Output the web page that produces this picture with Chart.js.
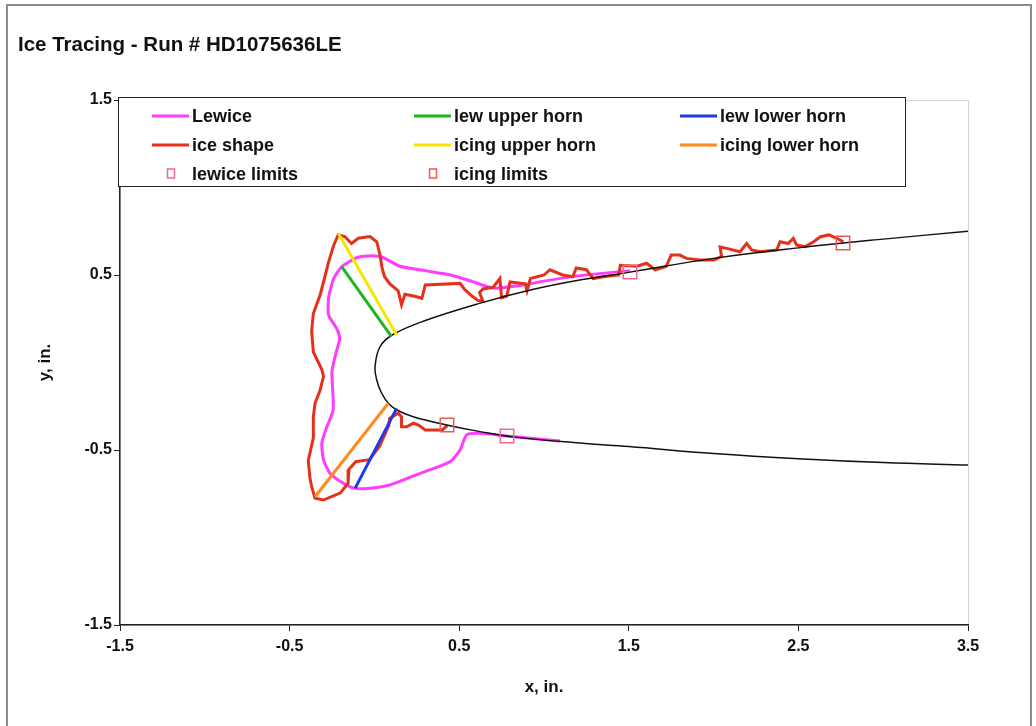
<!DOCTYPE html>
<html>
<head>
<meta charset="utf-8">
<script src="https://cdn.jsdelivr.net/npm/chart.js@4.4.1/dist/chart.umd.min.js"></script>
<style>
html, body { margin: 0; padding: 0; background: #fff; }
#wrap { position: relative; width: 1036px; height: 726px; overflow: hidden; }
#frame { position: absolute; left: 6px; top: 4px; width: 1026px; height: 760px; border: 2px solid #8c8c8c; box-sizing: border-box; pointer-events: none; }
canvas { position: absolute; left: 0; top: 0; }
</style>
</head>
<body>
<div id="wrap">
  <canvas id="chart" width="1036" height="726"></canvas>
  <div id="frame"></div>
</div>
<script>
// tick positions
const xTicks = [-1.5, -0.5, 0.5, 1.5, 2.5, 3.5];
const yTicks = [-1.5, -0.5, 0.5, 1.5];

// airfoil surface, upper trailing edge -> leading edge -> lower trailing edge
const airfoil = [
  [3.5, 0.75], [3.0, 0.705], [2.5, 0.655], [2.0, 0.595], [1.5, 0.515], [1.21, 0.471],
  [0.92, 0.414], [0.62, 0.338], [0.3, 0.24], [0.11, 0.16], [0.033, 0.09], [0.004, -0.024],
  [0.014, -0.1], [0.04, -0.17], [0.082, -0.233], [0.13, -0.27], [0.229, -0.31], [0.426, -0.357],
  [0.623, -0.395], [0.817, -0.425], [1.212, -0.46], [1.5, -0.48], [2.0, -0.52], [2.5, -0.55],
  [3.0, -0.572], [3.5, -0.586]
];

const lewice = [
  [1.507, 0.525], [1.2, 0.495], [1.0, 0.465], [0.86, 0.44], [0.7, 0.425], [0.58, 0.462],
  [0.45, 0.5], [0.3, 0.525], [0.15, 0.55], [0.05, 0.6], [-0.01, 0.61], [-0.1, 0.6],
  [-0.19, 0.55], [-0.24, 0.48], [-0.27, 0.37], [-0.27, 0.27], [-0.22, 0.19], [-0.205, 0.135],
  [-0.225, 0.06], [-0.25, -0.05], [-0.243, -0.27], [-0.28, -0.367], [-0.31, -0.46], [-0.3, -0.557],
  [-0.262, -0.633], [-0.2, -0.68], [-0.12, -0.718], [-0.04, -0.72], [0.09, -0.7], [0.27, -0.633],
  [0.446, -0.567], [0.505, -0.5], [0.544, -0.414], [0.623, -0.405], [0.78, -0.42], [1.094, -0.449]
];

const iceShape = [
  [0.43, -0.36], [0.4, -0.385], [0.3, -0.385], [0.26, -0.357], [0.23, -0.347], [0.19, -0.367],
  [0.16, -0.367], [0.16, -0.31], [0.14, -0.29], [0.09, -0.32], [0.085, -0.36], [0.03, -0.48],
  [-0.03, -0.555], [-0.11, -0.567], [-0.15, -0.61], [-0.155, -0.69], [-0.2, -0.745], [-0.3, -0.786],
  [-0.35, -0.775], [-0.37, -0.71], [-0.38, -0.66], [-0.39, -0.56], [-0.36, -0.43], [-0.36, -0.31],
  [-0.35, -0.233], [-0.32, -0.157], [-0.3, -0.08], [-0.31, -0.04], [-0.33, 0.0], [-0.36, 0.06],
  [-0.37, 0.18], [-0.36, 0.28], [-0.32, 0.385], [-0.3, 0.46], [-0.27, 0.575], [-0.24, 0.67],
  [-0.213, 0.73], [-0.175, 0.72], [-0.135, 0.68], [-0.095, 0.71], [-0.026, 0.72], [0.014, 0.69],
  [0.033, 0.614], [0.045, 0.54], [0.06, 0.49], [0.09, 0.45], [0.14, 0.41], [0.16, 0.33],
  [0.18, 0.39], [0.25, 0.376], [0.28, 0.367], [0.3, 0.443], [0.505, 0.452], [0.53, 0.42],
  [0.575, 0.38], [0.61, 0.355], [0.64, 0.35], [0.62, 0.4], [0.64, 0.42], [0.7, 0.43],
  [0.74, 0.48], [0.75, 0.37], [0.78, 0.38], [0.8, 0.46], [0.89, 0.45], [0.9, 0.41],
  [0.92, 0.48], [1.0, 0.5], [1.035, 0.53], [1.11, 0.5], [1.17, 0.49], [1.19, 0.54],
  [1.25, 0.53], [1.29, 0.48], [1.35, 0.49], [1.44, 0.5], [1.45, 0.555], [1.55, 0.55],
  [1.605, 0.567], [1.655, 0.53], [1.72, 0.548], [1.75, 0.614], [1.8, 0.614], [1.84, 0.595],
  [1.92, 0.586], [2.0, 0.586], [2.047, 0.605], [2.038, 0.66], [2.077, 0.652], [2.156, 0.633],
  [2.195, 0.68], [2.224, 0.643], [2.274, 0.633], [2.372, 0.643], [2.392, 0.69], [2.44, 0.68],
  [2.47, 0.71], [2.49, 0.671], [2.54, 0.662], [2.59, 0.69], [2.63, 0.719], [2.68, 0.729],
  [2.726, 0.71], [2.765, 0.69]
];

const lewUpperHorn = [[-0.193, 0.548], [0.101, 0.148]];
const lewLowerHorn = [[-0.114, -0.719], [0.131, -0.262]];
const icingUpperHorn = [[-0.213, 0.738], [0.131, 0.157]];
const icingLowerHorn = [[-0.35, -0.767], [0.082, -0.233]];

const lewiceLimits = [[1.507, 0.517], [0.782, -0.42]];
const icingLimits = [[2.763, 0.683], [0.428, -0.357]];

const FONT = "'Liberation Sans', Arial, Helvetica, sans-serif";
const pts = arr => arr.map(p => ({ x: p[0], y: p[1] }));

function lineSet(label, data, color, width, order, tension) {
  return {
    label, data: pts(data), borderColor: color, backgroundColor: color,
    borderWidth: width, showLine: true, pointRadius: 0, tension: tension || 0, order
  };
}

const plotFrame = {
  id: 'plotFrame',
  beforeDraw(chart) {
    const a = chart.chartArea, ctx = chart.ctx;
    ctx.save();
    ctx.strokeStyle = '#d4d4d4';
    ctx.lineWidth = 1;
    ctx.strokeRect(a.left + 0.5, a.top + 0.5, a.right - a.left, a.bottom - a.top);
    ctx.restore();
  }
};

// legend drawn inside the plot, three columns
const boxLegend = {
  id: 'boxLegend',
  afterDraw(chart) {
    const ctx = chart.ctx;
    const cols = [152, 414, 680];
    const rows = [116, 145, 174];
    ctx.save();
    ctx.fillStyle = '#fff';
    ctx.fillRect(118, 97, 787, 89);
    ctx.strokeStyle = '#222';
    ctx.lineWidth = 1;
    ctx.strokeRect(118.5, 97.5, 787, 89);
    ctx.font = 'bold 18px ' + FONT;
    ctx.textBaseline = 'middle';
    let i = 0;
    chart.data.datasets.forEach(ds => {
      if (ds.noLegend) return;
      const x = cols[i % 3], y = rows[Math.floor(i / 3)];
      ctx.strokeStyle = ds.borderColor;
      if (ds.showLine) {
        ctx.lineWidth = 3;
        ctx.beginPath();
        ctx.moveTo(x, y);
        ctx.lineTo(x + 37, y);
        ctx.stroke();
      } else {
        ctx.lineWidth = 1.5;
        ctx.strokeRect(x + 15.5, y - 5, 7, 9);
      }
      ctx.fillStyle = '#111';
      ctx.fillText(ds.label, x + 40, y + 1);
      i++;
    });
    ctx.restore();
  }
};

new Chart(document.getElementById('chart'), {
  type: 'scatter',
  data: {
    datasets: [
      lineSet('Lewice', lewice, '#ff3cff', 3, 4, 0.2),
      lineSet('lew upper horn', lewUpperHorn, '#1fb51f', 3, 1),
      lineSet('lew lower horn', lewLowerHorn, '#1a3ce8', 3, 1),
      lineSet('ice shape', iceShape, '#e5311b', 3, 3),
      lineSet('icing upper horn', icingUpperHorn, '#f7e400', 3, 1),
      lineSet('icing lower horn', icingLowerHorn, '#ff8a1e', 3, 1),
      {
        label: 'lewice limits', data: pts(lewiceLimits), showLine: false,
        pointStyle: 'rect', pointRadius: 9.5, borderWidth: 1.5,
        borderColor: '#f2689a', backgroundColor: 'rgba(0,0,0,0)', order: 0
      },
      {
        label: 'icing limits', data: pts(icingLimits), showLine: false,
        pointStyle: 'rect', pointRadius: 9.5, borderWidth: 1.5,
        borderColor: '#ec5a52', backgroundColor: 'rgba(0,0,0,0)', order: 0
      },
      Object.assign(lineSet('airfoil', airfoil, '#111', 1.5, 2, 0.4), { noLegend: true })
    ]
  },
  options: {
    responsive: false,
    devicePixelRatio: 1,
    animation: false,
    layout: { padding: { left: 18, right: 68, top: 0, bottom: 0 } },
    plugins: {
      legend: { display: false },
      tooltip: { enabled: false },
      title: {
        display: true, text: 'Ice Tracing - Run # HD1075636LE', align: 'start',
        color: '#111', font: { family: FONT, size: 20.5, weight: 'bold' },
        padding: { top: 32.7, bottom: 42.7 }
      }
    },
    scales: {
      x: {
        type: 'linear', min: -1.5, max: 3.5,
        afterBuildTicks: s => { s.ticks = xTicks.map(v => ({ value: v })); },
        afterFit: s => { s.height = 101; },
        grid: { display: true, drawOnChartArea: false, drawTicks: true, tickLength: 6, color: '#222' },
        border: { display: true, color: '#222', width: 1.5 },
        ticks: { color: '#111', padding: 6, maxRotation: 0, font: { family: FONT, size: 16, weight: 'bold' }, callback: v => String(v) },
        title: { display: true, text: 'x, in.', color: '#111', font: { family: FONT, size: 17, weight: 'bold' }, padding: { top: 0, bottom: 28 } }
      },
      y: {
        type: 'linear', min: -1.5, max: 1.5,
        afterBuildTicks: s => { s.ticks = yTicks.map(v => ({ value: v })); },
        afterFit: s => { s.width = 102; },
        grid: { display: true, drawOnChartArea: false, drawTicks: true, tickLength: 6, color: '#222' },
        border: { display: true, color: '#222', width: 1.5 },
        ticks: { color: '#111', padding: 2, font: { family: FONT, size: 16, weight: 'bold' }, callback: v => String(v) },
        title: { display: true, text: 'y, in.', color: '#111', font: { family: FONT, size: 17, weight: 'bold' }, padding: { top: 17, bottom: 0 } }
      }
    }
  },
  plugins: [plotFrame, boxLegend]
});
</script>
</body>
</html>
